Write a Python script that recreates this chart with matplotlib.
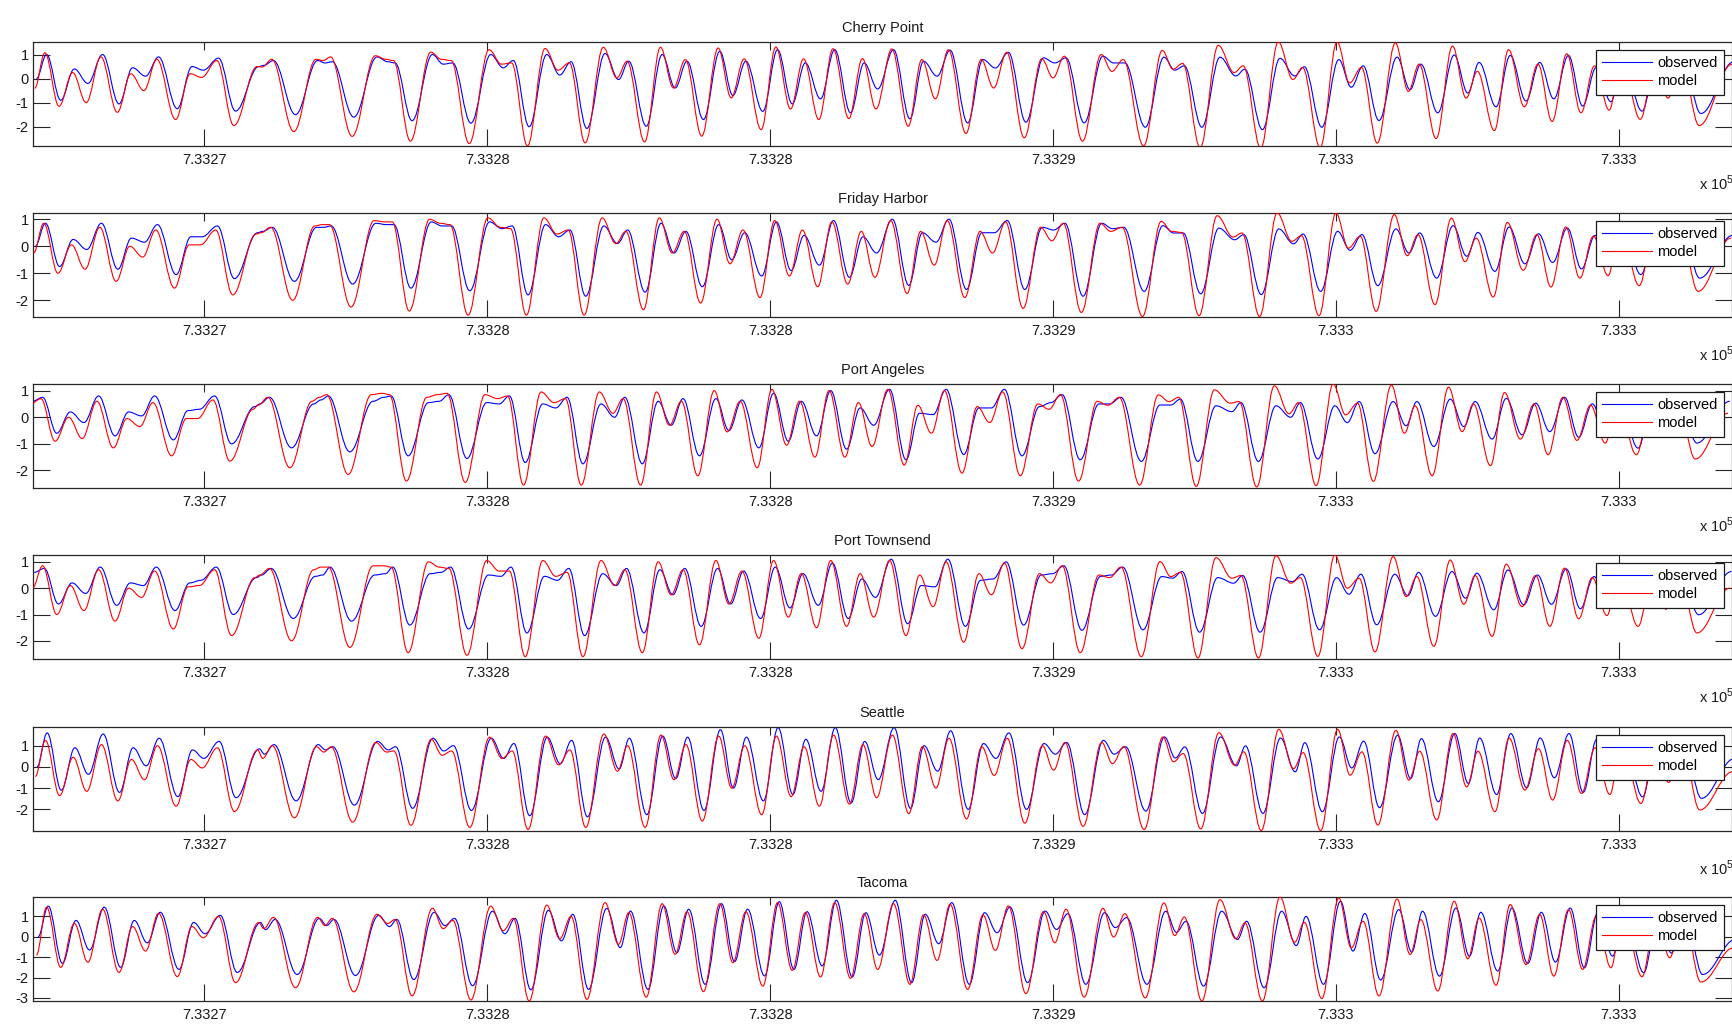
import matplotlib
matplotlib.use('Agg')
import matplotlib.pyplot as plt
from matplotlib.path import Path
from matplotlib.patches import PathPatch
from matplotlib.lines import Line2D

plt.rcParams['font.family'] = ['Liberation Sans', 'DejaVu Sans']
plt.rcParams['axes.unicode_minus'] = False
plt.rcParams['mathtext.fontset'] = 'custom'
plt.rcParams['mathtext.rm'] = 'Liberation Sans'

# tide extrema (day offset from datenum 733272)
t_start = 733272.0
times = [0.00,
         0.18, 0.43, 0.67, 0.91, 1.17, 1.46, 1.70, 1.93,
         2.16, 2.49, 2.75, 2.95, 3.22, 3.52, 3.93, 4.02,
         4.19, 4.58, 4.97, 5.10, 5.23, 5.61, 6.02, 6.21,
         6.34, 6.64, 7.00, 7.19, 7.36, 7.68, 8.03, 8.25,
         8.43, 8.71, 9.02, 9.25, 9.45, 9.73, 10.05, 10.29,
         10.47, 10.78, 11.06, 11.29, 11.50, 11.79, 12.08, 12.31,
         12.54, 12.84, 13.10, 13.36, 13.59, 13.86, 14.11, 14.39,
         14.63, 14.87, 15.15, 15.44, 15.68, 15.92, 16.15, 16.46,
         16.73, 16.95, 17.18, 17.49, 17.80, 18.00, 18.20, 18.52,
         18.85, 19.04, 19.24, 19.60, 19.93, 20.12, 20.29, 20.60,
         20.92, 21.20, 21.36, 21.67, 21.98, 22.24, 22.41, 22.72,
         23.02, 23.24, 23.45, 23.73, 24.05, 24.28, 24.47, 24.77,
         25.06, 25.30, 25.50, 25.80, 26.05, 26.33, 26.57, 26.82,
         27.08, 27.33, 27.57, 27.83, 28.04, 28.38, 28.63, 28.87,
         29.10, 29.42, 30.00]

cp_mod = [-0.40,
          1.07, -1.15, 0.25, -1.00, 0.90, -1.40, 0.20, -0.50,
          0.80, -1.70, 0.20, 0.05, 0.75, -1.95, 0.50, 0.48,
          0.80, -2.20, 0.80, 0.75, 0.90, -2.40, 0.95, 0.80,
          0.75, -2.60, 1.10, 0.80, 0.75, -2.70, 1.20, 0.60,
          0.65, -2.80, 1.25, 0.35, 0.65, -2.67, 1.30, 0.03,
          0.72, -2.63, 1.30, -0.39, 0.79, -2.39, 1.27, -0.80,
          0.82, -2.12, 1.31, -1.26, 0.82, -1.70, 1.24, -1.66,
          0.83, -1.26, 1.23, -1.98, 0.79, -0.84, 1.20, -2.28,
          0.79, -0.39, 1.09, -2.46, 0.82, 0.03, 0.93, -2.60,
          1.00, 0.30, 0.79, -2.80, 1.17, 0.39, 0.63, -2.87,
          1.38, 0.25, 0.53, -2.90, 1.52, -0.04, 0.46, -2.87,
          1.52, -0.18, 0.46, -2.68, 1.48, -0.53, 0.60, -2.49,
          1.35, -0.81, 0.30, -2.16, 1.20, -1.17, 0.60, -1.78,
          1.03, -1.42, 0.53, -1.31, 0.90, -1.69, 0.60, -0.81,
          0.80, -1.95, 0.60]
cp_obs = [0.00,
          1.00, -0.90, 0.40, -0.20, 1.00, -1.05, 0.45, 0.10,
          0.90, -1.25, 0.50, 0.35, 0.85, -1.35, 0.50, 0.55,
          0.75, -1.50, 0.75, 0.65, 0.70, -1.60, 0.90, 0.70,
          0.65, -1.75, 1.00, 0.60, 0.65, -1.85, 1.00, 0.45,
          0.75, -2.00, 1.00, 0.15, 0.70, -2.07, 1.04, -0.04,
          0.72, -1.98, 1.00, -0.39, 0.72, -1.70, 1.13, -0.70,
          0.72, -1.36, 1.20, -1.05, 0.65, -0.84, 1.20, -1.42,
          0.65, -0.43, 1.20, -1.67, 0.72, 0.10, 1.18, -1.84,
          0.79, 0.44, 1.09, -1.81, 0.86, 0.65, 0.86, -1.84,
          0.93, 0.65, 0.65, -2.02, 0.89, 0.35, 0.53, -2.02,
          0.89, 0.11, 0.39, -2.12, 0.84, 0.11, 0.49, -2.02,
          0.79, -0.36, 0.53, -1.74, 0.89, -0.46, 0.60, -1.42,
          0.98, -0.60, 0.67, -1.17, 0.96, -0.93, 0.67, -0.84,
          0.96, -1.14, 0.46, -0.96, 0.80, -1.35, 0.60, -0.50,
          0.80, -1.45, 0.70]

fh_mod = [-0.25,
          0.85, -1.00, 0.05, -0.85, 0.70, -1.30, 0.00, -0.40,
          0.60, -1.55, 0.05, 0.05, 0.60, -1.80, 0.45, 0.50,
          0.70, -2.00, 0.75, 0.80, 0.80, -2.25, 0.95, 0.90,
          0.90, -2.40, 1.00, 0.85, 0.80, -2.55, 1.05, 0.70,
          0.65, -2.55, 1.05, 0.45, 0.60, -2.55, 1.05, 0.10,
          0.55, -2.35, 1.05, -0.25, 0.55, -2.10, 1.00, -0.65,
          0.60, -1.90, 0.95, -1.10, 0.60, -1.50, 0.90, -1.40,
          0.55, -1.15, 0.95, -1.75, 0.55, -0.70, 0.95, -1.90,
          0.55, -0.25, 0.90, -2.30, 0.70, 0.20, 0.85, -2.45,
          0.85, 0.55, 0.70, -2.60, 0.92, 0.55, 0.51, -2.57,
          1.13, 0.34, 0.49, -2.60, 1.23, 0.18, 0.39, -2.57,
          1.23, -0.07, 0.37, -2.41, 1.17, -0.35, 0.43, -2.16,
          1.04, -0.57, 0.30, -1.88, 0.88, -0.89, 0.43, -1.51,
          0.71, -1.18, 0.37, -1.09, 0.80, -1.46, 0.50, -0.70,
          0.70, -1.67, 0.30]
fh_obs = [0.00,
          0.85, -0.75, 0.25, -0.12, 0.85, -0.85, 0.30, 0.15,
          0.80, -1.05, 0.35, 0.35, 0.75, -1.20, 0.50, 0.55,
          0.70, -1.30, 0.70, 0.70, 0.75, -1.40, 0.85, 0.80,
          0.80, -1.55, 0.90, 0.75, 0.75, -1.65, 0.90, 0.65,
          0.75, -1.80, 0.80, 0.35, 0.60, -1.85, 0.75, 0.10,
          0.60, -1.70, 0.85, -0.25, 0.55, -1.50, 0.80, -0.50,
          0.50, -1.10, 0.90, -0.90, 0.40, -0.70, 0.95, -1.15,
          0.35, -0.25, 1.00, -1.45, 0.50, 0.15, 1.00, -1.60,
          0.50, 0.50, 0.95, -1.60, 0.70, 0.60, 0.85, -1.85,
          0.85, 0.65, 0.70, -1.67, 0.76, 0.49, 0.49, -1.76,
          0.67, 0.24, 0.43, -1.79, 0.64, 0.09, 0.45, -1.67,
          0.55, -0.15, 0.43, -1.46, 0.64, -0.25, 0.49, -1.18,
          0.76, -0.37, 0.51, -0.93, 0.71, -0.65, 0.46, -0.60,
          0.67, -0.84, 0.40, -0.75, 0.80, -1.05, 0.50, -0.40,
          0.70, -1.18, 0.40]

pa_mod = [0.50,
          0.70, -0.90, 0.00, -0.80, 0.60, -1.15, -0.05, -0.35,
          0.55, -1.45, -0.05, -0.05, 0.65, -1.65, 0.30, 0.45,
          0.75, -1.90, 0.60, 0.75, 0.85, -2.15, 0.85, 0.90,
          0.85, -2.40, 0.75, 0.85, 0.90, -2.45, 0.85, 0.70,
          0.80, -2.55, 0.95, 0.55, 0.70, -2.55, 0.95, 0.15,
          0.70, -2.55, 0.95, -0.30, 0.60, -2.20, 1.00, -0.55,
          0.60, -1.90, 1.05, -1.05, 0.60, -1.50, 1.00, -1.50,
          0.55, -1.10, 1.05, -1.80, 0.45, -0.60, 1.00, -2.10,
          0.40, -0.20, 0.95, -2.20, 0.50, 0.30, 0.85, -2.40,
          0.60, 0.45, 0.75, -2.55, 0.84, 0.59, 0.75, -2.60,
          1.03, 0.53, 0.59, -2.62, 1.18, 0.13, 0.55, -2.57,
          1.25, 0.09, 0.53, -2.41, 1.21, -0.60, 0.43, -2.20,
          1.13, -0.54, 0.50, -1.82, 0.93, -0.82, 0.50, -1.41,
          0.75, -0.87, 0.45, -0.97, 0.70, -1.41, 0.50, -0.72,
          0.75, -1.57, 0.15]
pa_obs = [0.60,
          0.75, -0.60, 0.20, -0.20, 0.80, -0.70, 0.20, 0.05,
          0.80, -0.85, 0.25, 0.30, 0.80, -1.00, 0.40, 0.50,
          0.75, -1.15, 0.50, 0.65, 0.80, -1.30, 0.60, 0.75,
          0.80, -1.45, 0.55, 0.60, 0.85, -1.55, 0.55, 0.50,
          0.80, -1.70, 0.50, 0.35, 0.75, -1.75, 0.50, 0.00,
          0.75, -1.75, 0.60, -0.30, 0.70, -1.45, 0.70, -0.50,
          0.65, -1.15, 0.90, -0.90, 0.60, -0.70, 1.00, -1.20,
          0.35, -0.30, 1.05, -1.60, 0.15, 0.10, 1.05, -1.40,
          0.35, 0.35, 1.05, -1.45, 0.40, 0.55, 0.85, -1.60,
          0.50, 0.50, 0.75, -1.66, 0.46, 0.46, 0.68, -1.66,
          0.43, 0.21, 0.55, -1.66, 0.43, 0.00, 0.55, -1.57,
          0.43, -0.20, 0.59, -1.37, 0.59, -0.32, 0.59, -1.10,
          0.68, -0.35, 0.59, -0.82, 0.71, -0.66, 0.53, -0.54,
          0.75, -0.75, 0.50, -0.70, 0.70, -1.16, 0.50, -0.40,
          0.75, -0.97, 0.60]

pt_mod = [0.00,
          0.85, -1.00, 0.10, -0.85, 0.70, -1.25, 0.00, -0.35,
          0.65, -1.55, 0.05, 0.10, 0.70, -1.80, 0.40, 0.50,
          0.75, -2.00, 0.70, 0.80, 0.80, -2.25, 0.85, 0.85,
          0.80, -2.45, 1.00, 0.80, 0.75, -2.55, 1.05, 0.65,
          0.65, -2.60, 1.05, 0.45, 0.60, -2.60, 1.05, 0.10,
          0.70, -2.45, 1.00, -0.25, 0.70, -2.15, 1.05, -0.60,
          0.65, -1.90, 1.05, -1.10, 0.55, -1.50, 1.05, -1.45,
          0.55, -1.10, 1.05, -1.80, 0.50, -0.70, 1.00, -2.05,
          0.55, -0.25, 0.95, -2.30, 0.55, 0.20, 0.85, -2.45,
          0.50, 0.40, 0.80, -2.60, 1.01, 0.44, 0.60, -2.65,
          1.16, 0.38, 0.48, -2.65, 1.23, 0.19, 0.40, -2.59,
          1.26, 0.00, 0.38, -2.42, 1.20, -0.32, 0.44, -2.21,
          1.07, -0.61, 0.48, -1.83, 0.91, -0.70, 0.48, -1.45,
          0.76, -1.16, 0.40, -1.04, 0.75, -1.45, 0.50, -0.80,
          0.70, -1.70, 0.00]
pt_obs = [0.60,
          0.75, -0.60, 0.20, -0.20, 0.80, -0.65, 0.20, 0.10,
          0.80, -0.85, 0.20, 0.30, 0.80, -1.00, 0.40, 0.50,
          0.75, -1.15, 0.45, 0.50, 0.80, -1.25, 0.50, 0.55,
          0.80, -1.40, 0.55, 0.60, 0.80, -1.55, 0.50, 0.45,
          0.80, -1.70, 0.45, 0.30, 0.75, -1.80, 0.55, 0.10,
          0.75, -1.70, 0.70, -0.25, 0.75, -1.45, 0.75, -0.60,
          0.65, -1.15, 0.80, -0.75, 0.55, -0.65, 0.95, -1.15,
          0.35, -0.35, 1.10, -1.35, 0.10, 0.05, 1.10, -1.45,
          0.30, 0.35, 1.00, -1.40, 0.50, 0.55, 0.85, -1.60,
          0.45, 0.50, 0.80, -1.58, 0.44, 0.38, 0.63, -1.67,
          0.40, 0.19, 0.48, -1.67, 0.40, 0.25, 0.53, -1.58,
          0.40, -0.23, 0.53, -1.39, 0.53, -0.28, 0.60, -1.07,
          0.63, -0.38, 0.57, -0.82, 0.69, -0.63, 0.50, -0.61,
          0.73, -0.78, 0.44, -0.70, 0.75, -0.76, 0.50, -0.40,
          0.70, -1.01, 0.63]

se_mod = [-0.45,
          1.25, -1.35, 0.45, -1.15, 1.05, -1.60, 0.35, -0.60,
          1.00, -1.85, 0.35, -0.05, 0.90, -2.10, 0.80, 0.40,
          1.00, -2.40, 0.95, 0.70, 0.95, -2.60, 1.15, 0.70,
          0.75, -2.75, 1.30, 0.55, 0.75, -2.85, 1.40, 0.40,
          0.75, -2.95, 1.45, 0.10, 0.80, -2.85, 1.55, -0.20,
          1.00, -2.85, 1.50, -0.60, 1.05, -2.55, 1.45, -1.00,
          1.00, -2.25, 1.45, -1.40, 0.95, -1.85, 1.50, -1.75,
          1.05, -1.45, 1.50, -2.20, 0.95, -1.00, 1.35, -2.45,
          0.95, -0.40, 1.35, -2.65, 1.00, -0.15, 1.15, -2.80,
          1.15, 0.15, 0.95, -2.95, 1.41, 0.24, 0.63, -2.92,
          1.61, 0.08, 0.71, -3.00, 1.77, -0.08, 0.67, -3.00,
          1.77, -0.39, 0.71, -2.74, 1.72, -0.62, 0.74, -2.50,
          1.57, -0.94, 0.74, -2.11, 1.36, -1.09, 0.86, -1.56,
          1.25, -1.25, 0.90, -1.30, 1.30, -1.72, 0.90, -0.73,
          1.20, -2.03, -0.23]
se_obs = [0.00,
          1.60, -1.10, 0.90, -0.35, 1.55, -1.20, 0.90, 0.05,
          1.35, -1.40, 0.80, 0.40, 1.20, -1.45, 0.85, 0.60,
          1.05, -1.60, 1.05, 0.80, 0.95, -1.80, 1.20, 0.80,
          0.95, -1.95, 1.35, 0.75, 1.00, -2.05, 1.35, 0.40,
          1.10, -2.30, 1.40, 0.15, 1.25, -2.35, 1.40, -0.10,
          1.35, -2.25, 1.45, -0.55, 1.40, -2.05, 1.75, -1.00,
          1.40, -1.60, 1.85, -1.30, 1.30, -1.15, 1.85, -1.70,
          1.20, -0.60, 1.85, -1.95, 1.00, -0.20, 1.70, -2.00,
          1.10, 0.40, 1.60, -2.00, 1.10, 0.60, 1.15, -2.25,
          1.25, 0.60, 0.95, -2.08, 1.41, 0.42, 0.94, -2.19,
          1.41, 0.05, 0.99, -2.19, 1.36, -0.23, 1.14, -2.11,
          1.41, -0.05, 1.21, -1.92, 1.49, -0.55, 1.33, -1.64,
          1.57, -0.78, 1.36, -1.30, 1.57, -0.98, 1.36, -0.51,
          1.57, -1.20, 1.30, -0.60, 1.30, -1.41, 1.20, -0.40,
          1.20, -1.48, 0.39]

ta_mod = [-0.90,
          1.45, -1.50, 0.65, -1.25, 1.35, -1.75, 0.50, -0.70,
          1.15, -1.95, 0.50, -0.05, 1.00, -2.25, 0.70, 0.40,
          0.95, -2.50, 0.95, 0.55, 0.90, -2.70, 1.10, 0.65,
          0.85, -2.90, 1.40, 0.40, 0.80, -3.10, 1.50, 0.30,
          0.90, -3.15, 1.55, -0.10, 1.00, -3.07, 1.67, -0.37,
          1.18, -2.96, 1.62, -0.86, 1.23, -2.69, 1.62, -1.27,
          1.23, -2.42, 1.67, -1.65, 1.18, -1.97, 1.67, -2.04,
          1.13, -1.60, 1.62, -2.33, 1.07, -1.16, 1.59, -2.58,
          1.07, -0.67, 1.51, -2.79, 1.23, -0.29, 1.35, -2.96,
          1.39, -0.01, 1.13, -3.00, 1.66, 0.06, 0.97, -3.15,
          1.82, -0.10, 0.68, -3.15, 1.95, -0.27, 0.71, -3.03,
          1.90, -0.54, 0.76, -2.90, 1.85, -0.87, 0.84, -2.66,
          1.74, -1.08, 0.92, -2.38, 1.58, -1.36, 1.09, -1.93,
          1.33, -1.60, 1.00, -1.52, 1.30, -1.96, 1.10, -1.03,
          1.30, -2.22, -0.54]
ta_obs = [0.00,
          1.50, -1.30, 0.80, -0.65, 1.45, -1.50, 0.80, -0.30,
          1.20, -1.60, 0.70, 0.15, 1.05, -1.75, 0.70, 0.35,
          0.85, -1.85, 0.90, 0.55, 0.85, -1.90, 1.05, 0.50,
          0.85, -2.10, 1.20, 0.55, 0.90, -2.40, 1.25, 0.15,
          0.90, -2.60, 1.30, -0.20, 1.10, -2.58, 1.39, -0.53,
          1.26, -2.58, 1.51, -0.78, 1.35, -2.33, 1.62, -1.22,
          1.35, -1.92, 1.72, -1.60, 1.23, -1.43, 1.79, -1.97,
          1.18, -0.90, 1.79, -2.25, 1.10, -0.34, 1.67, -2.33,
          1.18, 0.20, 1.46, -2.25, 1.26, 0.36, 1.13, -2.33,
          1.18, 0.45, 0.94, -2.33, 1.25, 0.22, 0.76, -2.42,
          1.25, -0.13, 0.76, -2.50, 1.25, -0.43, 1.00, -2.33,
          1.74, -0.70, 1.14, -2.12, 1.33, -0.75, 1.25, -1.93,
          1.41, -0.95, 1.20, -1.68, 1.41, -1.31, 1.20, -1.24,
          1.41, -1.52, 1.20, -0.95, 1.30, -1.76, 1.10, -0.80,
          1.30, -1.85, -0.13]

stations = ['Cherry Point', 'Friday Harbor', 'Port Angeles',
            'Port Townsend', 'Seattle', 'Tacoma']
observed = [cp_obs, fh_obs, pa_obs, pt_obs, se_obs, ta_obs]
model = [cp_mod, fh_mod, pa_mod, pt_mod, se_mod, ta_mod]
station_lag = [0.0, -0.02, -0.07, -0.04, 0.01, 0.03]   # days
obs_lag = 0.03
ylims = [(-2.8, 1.52), (-2.62, 1.23), (-2.66, 1.25),
         (-2.69, 1.26), (-3.02, 1.88), (-3.15, 1.95)]
yticks = [[-2, -1, 0, 1]] * 5 + [[-3, -2, -1, 0, 1]]
xticks = [733275, 733280, 733285, 733290, 733295, 733300]
xticklabels = ['7.3327', '7.3328', '7.3328', '7.3329', '7.333', '7.333']


def tide_path(t, v):
    # smooth curve through the extrema, flat at each turning point
    verts = [(t[0], v[0])]
    codes = [Path.MOVETO]
    for i in range(1, len(t)):
        h = (t[i] - t[i - 1]) * 0.37
        verts += [(t[i - 1] + h, v[i - 1]), (t[i] - h, v[i]), (t[i], v[i])]
        codes += [Path.CURVE4] * 3
    return Path(verts, codes)


W, H = 1733, 1030
fig = plt.figure(figsize=(W / 100, H / 100), dpi=100)
ax_left, ax_right = 33, 1732
ax_tops = [42, 213, 384, 555, 727, 897]
ax_h = 104

for k, name in enumerate(stations):
    top = ax_tops[k]
    ax = fig.add_axes([ax_left / W, 1 - (top + ax_h) / H,
                       (ax_right - ax_left) / W, ax_h / H])
    tm = [t_start + d + station_lag[k] for d in times]
    to = [x + obs_lag for x in tm]
    ax.add_patch(PathPatch(tide_path(to, observed[k]), facecolor='none',
                           edgecolor='b', lw=0.8, zorder=2))
    ax.add_patch(PathPatch(tide_path(tm, model[k]), facecolor='none',
                           edgecolor='r', lw=0.8, zorder=3))
    ax.set_xlim(t_start - 0.03, t_start + 30.0)
    ax.set_ylim(*ylims[k])
    ax.set_xticks(xticks)
    ax.set_xticklabels(xticklabels)
    ax.set_yticks(yticks[k])
    ax.set_yticklabels([str(v) for v in yticks[k]])
    ax.tick_params(direction='in', length=12, width=0.8, color='0.15',
                   top=True, right=True, labelsize=10.5, labelcolor='0.1')
    ax.tick_params(axis='x', pad=5)
    ax.tick_params(axis='y', pad=3)
    for tk in ax.xaxis.get_major_ticks():
        tk.tick2line.set_markersize(6)
    for s in ax.spines.values():
        s.set_color('0.15')
        s.set_linewidth(0.9)
    ax.set_title(name, fontsize=10.5, pad=7, color='0.1')
    handles = [Line2D([], [], color='b', lw=0.8), Line2D([], [], color='r', lw=0.8)]
    leg = ax.legend(handles, ['observed', 'model'], loc='upper right',
                    bbox_to_anchor=(0.9953, 0.925), borderaxespad=0,
                    fancybox=False, framealpha=1, edgecolor='0.1',
                    fontsize=10.5, handlelength=3.4, handletextpad=0.35,
                    borderpad=0.45, labelspacing=0.25)
    leg.get_frame().set_linewidth(0.9)
    # the last one falls below the figure edge, cut off as in the original
    fig.text(1699 / W, 1 - (top + ax_h + 37) / H, r'x 10$^{\mathregular{5}}$',
             fontsize=10.5, va='center', ha='left', color='0.1')

fig.savefig('out.png', dpi=100, facecolor='white')
